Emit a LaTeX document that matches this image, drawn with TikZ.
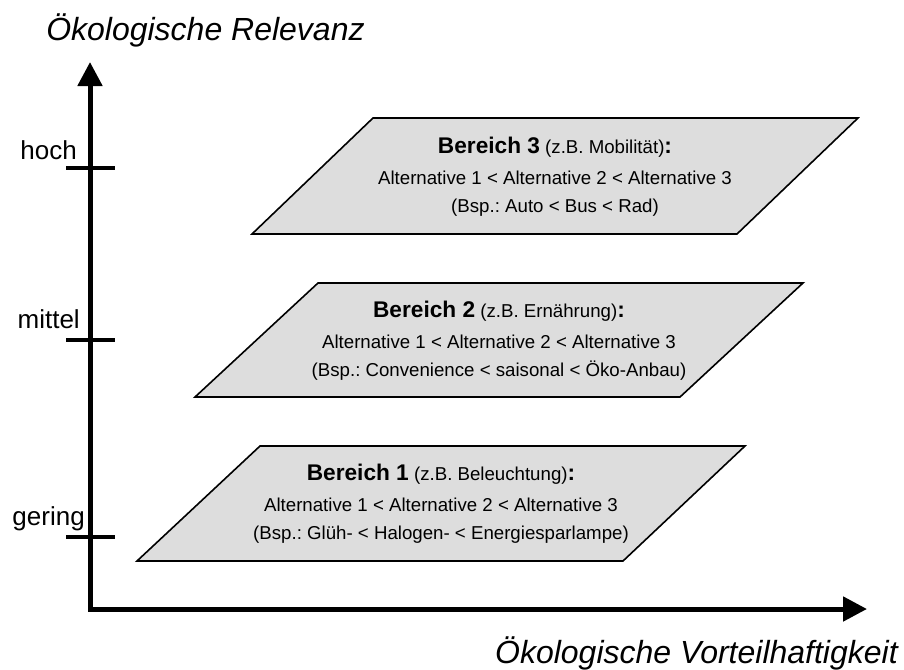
\documentclass[tikz,border=0pt]{standalone}
\usepackage{fontspec}
\setmainfont{Liberation Sans}
\usetikzlibrary{arrows.meta}
\frenchspacing

\newcommand{\bereichzeile}[2]{{\fontsize{17}{21}\selectfont\bfseries Bereich #1} (z.B. #2){\fontsize{17}{21}\selectfont\bfseries :}}

\begin{document}
\begin{tikzpicture}[
    x=0.75pt, y=-0.75pt,
    font=\fontsize{14}{21}\selectfont,
    achse/.style={line width=3.75pt, -{Triangle[length=18pt, width=18pt]}},
    strich/.style={line width=3pt},
    stufe/.style={anchor=base east, inner sep=0pt, font=\fontsize{19.5}{23}\selectfont},
    achsentitel/.style={inner sep=0pt, font=\fontsize{24}{28}\selectfont\itshape},
    ebene/.style={draw=black, fill=gray!27, line width=1.2pt},
    inhalt/.style={align=center, inner sep=0pt}
]
\useasboundingbox (0,0) rectangle (904,669);

% --- Achsen ---
\coordinate (ursprung) at (90,611);
\coordinate (xstart) at (88,609);
\coordinate (yspitze) at (90,62);
\coordinate (xspitze) at (867,609);
\draw[achse] (ursprung) -- (yspitze);
\draw[achse] (xstart) -- (xspitze);

\node[achsentitel, anchor=base west] (relevanz) at (46,40) {Ökologische Relevanz};
\node[achsentitel, anchor=base east] (vorteil) at (898,663) {Ökologische Vorteilhaftigkeit};

% --- Stufen ---
\draw[strich] (66,168) -- (115,168);
\draw[strich] (66,340) -- (115,340);
\draw[strich] (66,537) -- (115,537);
\node[stufe] (hoch) at (77,159) {hoch};
\node[stufe] (mittel) at (80,328) {mittel};
\node[stufe] (gering) at (85,525) {gering};

% --- Ebenen ---
\draw[ebene] (373,118) -- (858,118) -- (737,234) -- (252,234) -- cycle;
\draw[ebene] (318,283) -- (803,283) -- (680,397) -- (195,397) -- cycle;
\draw[ebene] (260,446) -- (745,446) -- (623,561) -- (137,561) -- cycle;

\node[inhalt] (bereich3) at (555,177) {\bereichzeile{3}{Mobilität}\\[2pt]
    Alternative 1 < Alternative 2 < Alternative 3\\
    (Bsp.: Auto < Bus < Rad)};
\node[inhalt] (bereich2) at (499,341) {\bereichzeile{2}{Ernährung}\\[2pt]
    Alternative 1 < Alternative 2 < Alternative 3\\
    (Bsp.: Convenience < saisonal < Öko-Anbau)};
\node[inhalt] (bereich1) at (441,504) {\bereichzeile{1}{Beleuchtung}\\[2pt]
    Alternative 1 < Alternative 2 < Alternative 3\\
    (Bsp.: Glüh- < Halogen- < Energiesparlampe)};

\end{tikzpicture}
\end{document}
